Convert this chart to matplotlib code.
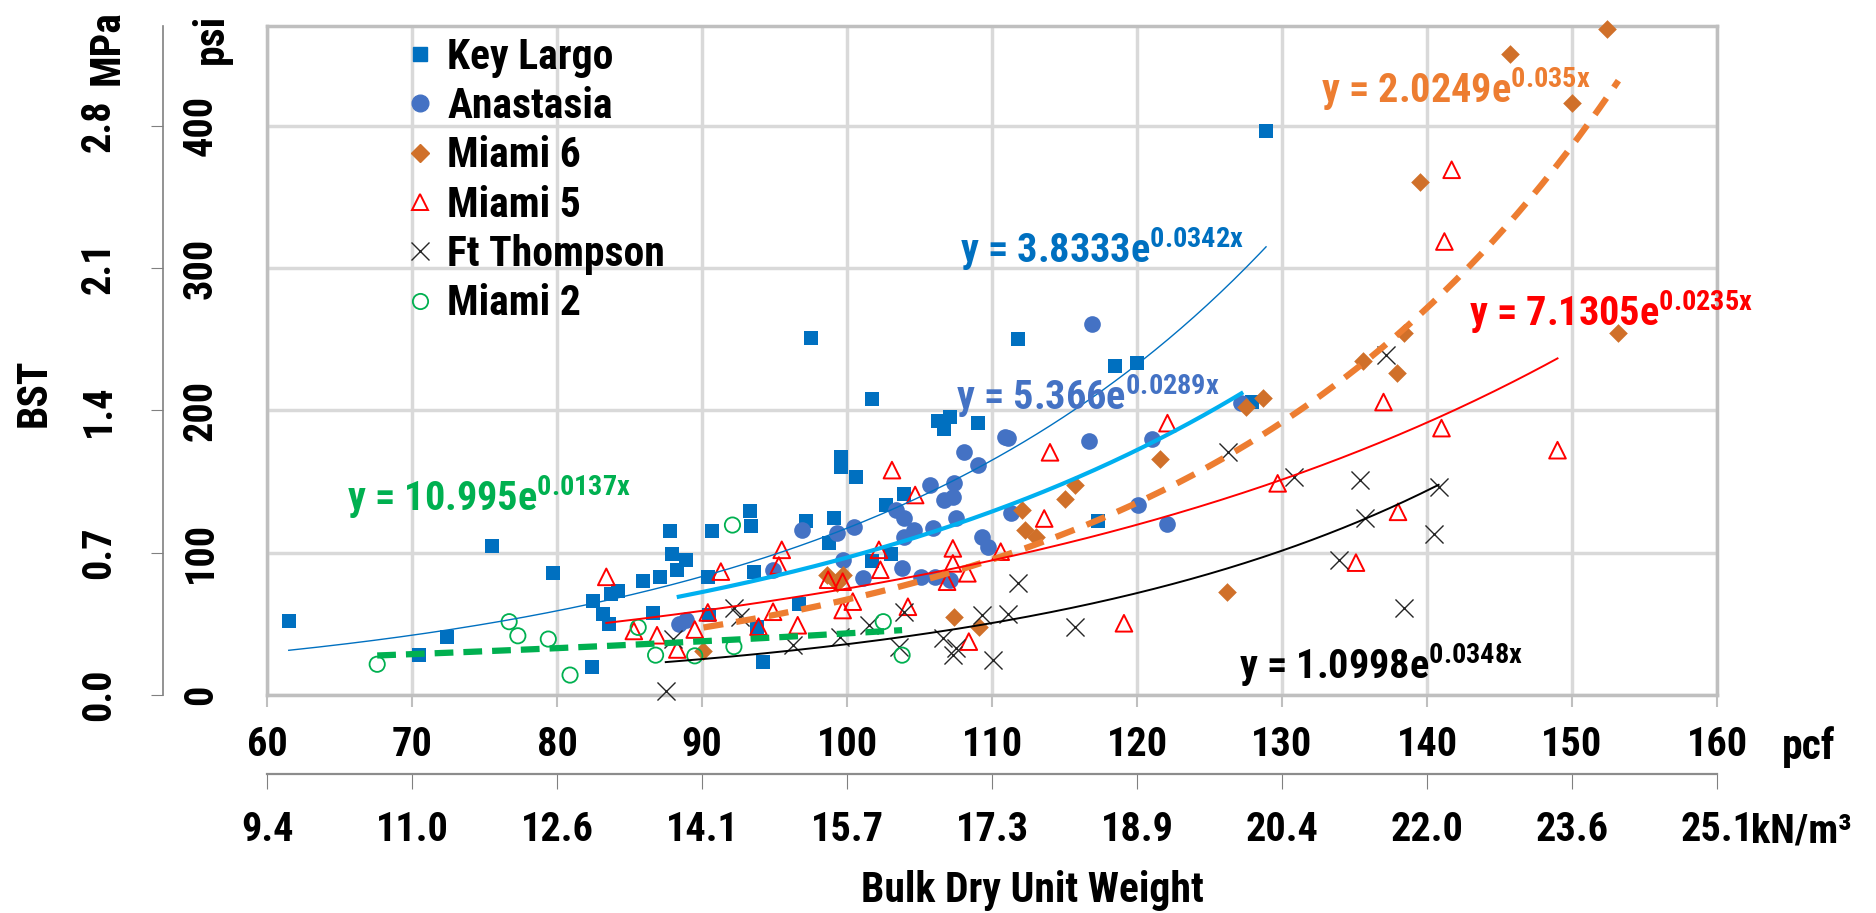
import numpy as np
import matplotlib.pyplot as plt
from matplotlib import font_manager
from matplotlib.lines import Line2D

# prefer a condensed face; fall back to Liberation Sans with smaller sizes
installed = {f.name for f in font_manager.fontManager.ttflist}
narrow = next((n for n in ['Liberation Sans Narrow', 'Roboto Condensed', 'Arial Narrow'] if n in installed), None)
if narrow:
    family, k = narrow, 1.0
else:
    family, k = 'Liberation Sans', 0.82

plt.rcParams['font.family'] = [family, 'DejaVu Sans']
plt.rcParams['font.weight'] = 'bold'
plt.rcParams['mathtext.fontset'] = 'custom'
plt.rcParams['mathtext.rm'] = family + ':bold'
plt.rcParams['mathtext.bf'] = family + ':bold'
plt.rcParams['mathtext.default'] = 'rm'

TICK_FS = 29 * k
EQ_FS = 29 * k
LABEL_FS = 30 * k

# bulk dry unit weight (pcf) vs BST (psi) for each formation
key_largo_x = [61.5, 70.5, 72.4, 75.5, 79.7, 82.4, 82.5, 83.2, 83.6, 83.7, 84.2, 85.9, 86.6, 87.1,
               87.8, 87.9, 88.3, 88.9, 90.4, 90.7, 93.3, 93.4, 97.2, 99.1, 98.75, 102.7, 103.9,
               103.0, 101.7, 93.6, 96.7, 94.2, 90.5, 93.8, 97.5, 101.7, 106.3, 107.1, 106.7,
               109.0, 99.6, 99.6, 100.6, 111.8, 118.5, 120.0, 127.9, 128.9, 117.3]
key_largo_y = [52, 28, 41, 104.5, 86, 20, 66, 57, 50, 71, 73, 80, 57.6, 83,
               115, 99, 87.5, 94.6, 83, 115, 129, 119, 122, 124, 107, 133.5, 141,
               99, 94, 86.7, 64, 23.4, 56, 48, 251, 208, 192.7, 195.5, 187,
               191, 167, 160, 153, 250, 231, 233.5, 206, 396, 122]

anastasia_x = [88.4, 88.9, 108.1, 109.0, 105.7, 107.4, 107.3, 106.7, 103.4, 103.9, 100.5, 99.3,
               96.9, 103.9, 105.9, 107.5, 109.3, 109.7, 110.9, 99.7, 101.1, 103.8, 105.1, 106.1,
               107.1, 94.9, 116.9, 111.1, 116.7, 121.0, 127.2, 111.3, 120.1, 122.1, 104.6]
anastasia_y = [50, 53, 171, 161.5, 147.5, 148.7, 139, 137, 130, 124, 118, 114,
               116, 111, 117.5, 124, 111, 104, 181.5, 95, 82, 89, 83, 83,
               81, 88, 260.6, 180.8, 178.5, 179.6, 205, 128, 133.5, 120, 116]

miami6_x = [90.1, 98.6, 99.7, 99.3, 107.4, 109.1, 112.1, 112.3, 113.0, 115.0, 115.7, 121.6,
            127.5, 128.7, 126.2, 135.6, 137.9, 138.4, 139.5, 145.7, 150.0, 152.4, 153.2]
miami6_y = [31, 84, 84, 78.5, 55, 48, 130, 116, 111, 137.5, 147.5, 166,
            202.6, 209, 72.6, 235, 226.5, 254, 360.7, 450, 416, 468, 254]

miami5_x = [83.4, 85.3, 86.9, 88.3, 89.5, 90.4, 91.3, 95.5, 95.3, 102.2, 102.3, 107.3, 107.3,
            108.3, 106.9, 110.6, 98.7, 99.7, 99.7, 100.4, 94.9, 96.6, 104.2, 93.9, 108.4,
            103.1, 104.7, 122.1, 114.0, 113.6, 129.7, 119.1, 141.7, 141.2, 137.0, 141.0,
            149.0, 138.0, 135.1]
miami5_y = [83, 45, 42, 32, 46, 58, 86.7, 102, 91, 102, 88, 103, 92.5,
            85.5, 79.6, 100.7, 81, 79.6, 59.7, 65.6, 58.5, 49, 62, 48, 37.5,
            158, 140.5, 191, 170.5, 124, 148.7, 50.4, 369, 318.6, 205.8, 187.5,
            172, 128.7, 93]

ft_thompson_x = [87.5, 88.0, 92.2, 92.6, 96.3, 99.5, 101.5, 103.6, 103.9, 106.6, 107.3, 107.5,
                 109.3, 110.1, 126.3, 130.8, 111.8, 111.1, 115.7, 137.2, 135.4, 140.8, 135.7,
                 140.5, 133.9, 138.4]
ft_thompson_y = [2.8, 39, 61, 55, 35, 41, 49, 34, 58.5, 40, 28, 33,
                 56, 24.6, 171, 153, 78.5, 57, 48, 238.7, 151, 146, 124,
                 112.8, 95, 61]

miami2_x = [67.6, 76.7, 77.3, 79.4, 80.9, 85.6, 86.8, 89.5, 92.1, 92.2, 102.5, 103.8]
miami2_y = [21.6, 51.5, 41.6, 39.3, 14, 47.5, 28, 27.5, 119.4, 34, 51.5, 28]

# exponential trendlines y = a * exp(b * x)
key_largo_fit = (3.8333, 0.0342)
anastasia_fit = (5.366, 0.0289)
miami6_fit = (2.0249, 0.035)
miami5_fit = (7.1305, 0.0235)
ft_thompson_fit = (1.0998, 0.0348)
miami2_fit = (10.995, 0.0137)

pcf_ticks = [60, 70, 80, 90, 100, 110, 120, 130, 140, 150, 160]
psi_ticks = [0, 100, 200, 300, 400]

W, H = 1876, 913
fig = plt.figure(figsize=(W / 100, H / 100), dpi=100)
ax = fig.add_axes([267 / W, 1 - 695 / H, 1450 / W, 669 / H])

series = [
    ('Key Largo', key_largo_x, key_largo_y, dict(marker='s', s=9.5 ** 2, color='#0070C0', linewidths=0)),
    ('Anastasia', anastasia_x, anastasia_y, dict(marker='o', s=12 ** 2, color='#4472C4', linewidths=0)),
    ('Miami 6', miami6_x, miami6_y, dict(marker='D', s=9.5 ** 2, color='#D0702A', linewidths=0)),
    ('Miami 5', miami5_x, miami5_y, dict(marker='^', s=12 ** 2, facecolors='none', edgecolors='#FF0000', linewidths=1.4)),
    ('Ft Thompson', ft_thompson_x, ft_thompson_y, dict(marker='x', s=13 ** 2, color='#262626', linewidths=1.0)),
    ('Miami 2', miami2_x, miami2_y, dict(marker='o', s=11 ** 2, facecolors='none', edgecolors='#00B050', linewidths=1.3)),
]
for name, xs, ys, kw in series:
    ax.scatter(xs, ys, zorder=3, clip_on=False, **kw)

# equation label: left edge and vertical centre of the digits (pcf, psi)
trends = [
    (key_largo_x, key_largo_fit, '#0070C0', 1.0, '-', (107.8, 314)),
    (anastasia_x, anastasia_fit, '#00B0F0', 3.0, '-', (107.5, 210.5)),
    (miami6_x, miami6_fit, '#ED7D31', 4.5, (0, (3.2, 2.1)), (132.7, 426)),
    (miami5_x, miami5_fit, '#FF0000', 1.4, '-', (142.9, 269.5)),
    (ft_thompson_x, ft_thompson_fit, '#000000', 1.4, '-', (127.0, 21.5)),
    (miami2_x, miami2_fit, '#00B050', 4.5, (0, (3.0, 1.6)), (65.5, 139.5)),
]
eq_colors = ['#0070C0', '#4472C4', '#ED7D31', '#FF0000', '#000000', '#00B050']
half_digit = 0.36 * EQ_FS * 100 / 72 / 1.423   # half digit height in psi
for (xs, (a, b), color, lw, ls, (tx, ty)), tc in zip(trends, eq_colors):
    xx = np.linspace(min(xs), max(xs), 300)
    ax.plot(xx, a * np.exp(b * xx), color=color, lw=lw, ls=ls, zorder=4)
    eq = 'y = %ge$^{%gx}$' % (a, b)
    ax.text(tx, ty - half_digit, eq, color=tc, fontsize=EQ_FS, ha='left', va='baseline',
            zorder=5, clip_on=False)

ax.set_xlim(60, 160)
ax.set_ylim(0, 470)
ax.set_xticks(pcf_ticks)
ax.set_yticks(psi_ticks)
ax.grid(True, color='#D9D9D9', lw=2.5)
ax.set_axisbelow(True)
for sp in ax.spines.values():
    sp.set_color('#BFBFBF')
    sp.set_linewidth(2.5)
ax.tick_params(axis='x', length=8.6, width=1.5, color='#BFBFBF', pad=14, labelsize=TICK_FS)
ax.tick_params(axis='y', length=0, pad=34, labelsize=TICK_FS, labelrotation=90)
for lab in ax.get_yticklabels():
    lab.set_va('center')

# MPa scale on the left
mpa = ax.secondary_yaxis(-104 / 1450, functions=(lambda v: v, lambda v: v))
mpa.set_yticks(psi_ticks, labels=['%.1f' % (v * 0.00689476) for v in psi_ticks])
mpa.spines['left'].set_color('#808080')
mpa.spines['left'].set_linewidth(1.2)
mpa.tick_params(axis='y', length=8.6, width=0.8, color='#808080', pad=24, labelsize=TICK_FS, labelrotation=90)
for lab in mpa.get_yticklabels():
    lab.set_va('center')

# kN/m3 scale below
kn = ax.secondary_xaxis(-79 / 669, functions=(lambda v: v, lambda v: v))
kn.set_xticks(pcf_ticks, labels=['%.1f' % (v * 0.157087) for v in pcf_ticks])
kn.spines['bottom'].set_color('#8C8C8C')
kn.spines['bottom'].set_linewidth(1.6)
kn.tick_params(axis='x', length=10.8, width=0.8, color='#808080', pad=16, labelsize=TICK_FS)

fig.text(34 / W, 1 - 393 / H, 'BST', rotation=90, fontsize=LABEL_FS, ha='center', va='center')
fig.text(107 / W, 1 - 48 / H, 'MPa', rotation=90, fontsize=LABEL_FS, ha='center', va='center')
fig.text(211 / W, 1 - 39 / H, 'psi', rotation=90, fontsize=LABEL_FS, ha='center', va='center')
fig.text(1782 / W, 1 - 759 / H, 'pcf', fontsize=LABEL_FS, ha='left', va='baseline')
fig.text(1751 / W, 1 - 842 / H, 'kN/m³', fontsize=TICK_FS, ha='left', va='baseline')
fig.text(1032 / W, 1 - 890 / H, 'Bulk Dry Unit Weight', fontsize=LABEL_FS, ha='center', va='center')

handles = []
for name, xs, ys, kw in series:
    mk = kw['marker']
    size = np.sqrt(kw['s'])
    if 'facecolors' in kw:
        h = Line2D([], [], ls='none', marker=mk, markersize=size, markerfacecolor='none',
                   markeredgecolor=kw['edgecolors'], markeredgewidth=kw['linewidths'])
    elif mk == 'x':
        h = Line2D([], [], ls='none', marker=mk, markersize=size, color=kw['color'],
                   markeredgewidth=kw['linewidths'])
    else:
        h = Line2D([], [], ls='none', marker=mk, markersize=size, color=kw['color'])
    handles.append(h)
ax.legend(handles, [s[0] for s in series], loc='upper left', bbox_to_anchor=(0.0986, 0.984),
          frameon=False, fontsize=LABEL_FS, handlelength=0.5, handletextpad=0.4,
          labelspacing=0.2 if narrow else 0.45,
          borderpad=0, borderaxespad=0)

fig.savefig('out.png', dpi=100)
